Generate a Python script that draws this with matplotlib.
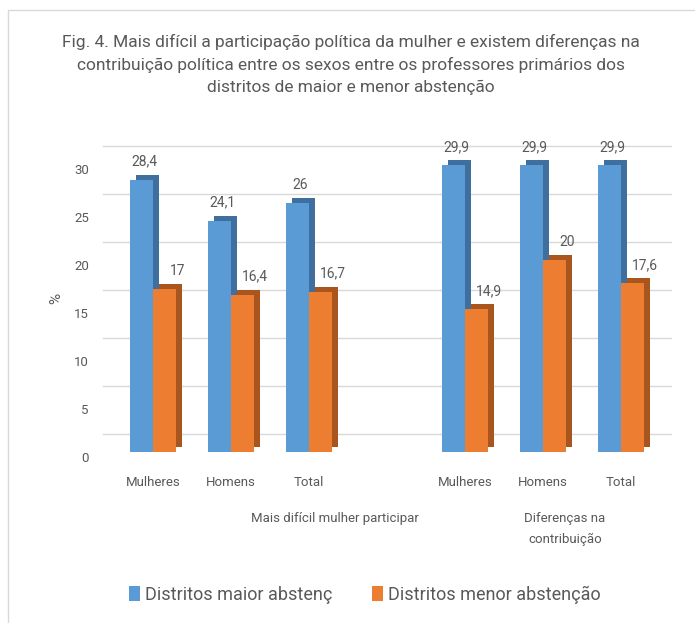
import numpy as np
import matplotlib.pyplot as plt
import matplotlib.transforms as mtransforms
from matplotlib.patches import Rectangle

plt.rcParams['font.family'] = ['Roboto', 'DejaVu Sans']

# data
categories = ['Mulheres', 'Homens', 'Total', 'Mulheres', 'Homens', 'Total']
groups = ['Mais difícil mulher participar', 'Diferenças na\ncontribuição']
maior = [28.4, 24.1, 26, 29.9, 29.9, 29.9]
menor = [17, 16.4, 16.7, 14.9, 20, 17.6]
value_labels_maior = ['28,4', '24,1', '26', '29,9', '29,9', '29,9']
value_labels_menor = ['17', '16,4', '16,7', '14,9', '20', '17,6']
series_names = ['Distritos maior abstenç', 'Distritos menor abstenção']
yticks = [0, 5, 10, 15, 20, 25, 30]

blue, blue_dark = '#5B9BD5', '#3F6F9E'
orange, orange_dark = '#ED7D31', '#A9561E'
txt = '#595959'

fig = plt.figure(figsize=(6.95, 6.23), dpi=100)
ax = fig.add_axes([0.136, 0.2745, 0.8305, 0.4925])

x = np.array([0, 1, 2, 4, 5, 6])
w = 0.3

# fake 3D depth: darker copy shifted up/right behind each bar
depth = mtransforms.ScaledTranslation(6 / 100, 5 / 100, fig.dpi_scale_trans)
ax.bar(x - w / 2, maior, w, color=blue_dark, transform=ax.transData + depth, zorder=2)
ax.bar(x + w / 2, menor, w, color=orange_dark, transform=ax.transData + depth, zorder=2)
b1 = ax.bar(x - w / 2, maior, w, color=blue, zorder=3, label=series_names[0])
b2 = ax.bar(x + w / 2, menor, w, color=orange, zorder=3, label=series_names[1])

for xi, v, s in zip(x, maior, value_labels_maior):
    ax.annotate(s, (xi - w / 2, v), xytext=(2, 8), textcoords='offset points',
                ha='center', va='bottom', fontsize=10, color=txt)
for xi, v, s in zip(x, menor, value_labels_menor):
    ax.annotate(s, (xi + w / 2, v), xytext=(9, 8), textcoords='offset points',
                ha='center', va='bottom', fontsize=10, color=txt)

# gridlines on the back wall (shifted up)
back = mtransforms.ScaledTranslation(0.08, 18 / 100, fig.dpi_scale_trans)
for t in yticks:
    ax.plot([0, 0.985], [t, t], color='#D9D9D9', lw=1, zorder=0,
            transform=ax.get_yaxis_transform() + back)

ax.set_xlim(-0.75, 6.65)
ax.set_ylim(0, 32)
ax.set_yticks(yticks)
ax.set_xticks(x)
ax.set_xticklabels(categories)
ax.tick_params(axis='both', length=0, labelsize=9.5, labelcolor=txt)
ax.tick_params(axis='x', pad=17)
ax.tick_params(axis='y', pad=4)
for lbl in ax.get_yticklabels():
    lbl.set_transform(lbl.get_transform() + mtransforms.ScaledTranslation(0, -0.05, fig.dpi_scale_trans))
for sp in ax.spines.values():
    sp.set_visible(False)
ax.set_ylabel('%', fontsize=11, color=txt, labelpad=8)

# group labels
ax.text(2.33, -6.3, groups[0], ha='center', va='top', fontsize=9.5, color=txt)
ax.text(5.28, -6.3, groups[1], ha='center', va='top', fontsize=9.5, color=txt,
        linespacing=1.7)

fig.text(0.505, 0.945,
         'Fig. 4. Mais difícil a participação política da mulher e existem diferenças na\n'
         'contribuição política entre os sexos entre os professores primários dos\n'
         'distritos de maior e menor abstenção',
         ha='center', va='top', fontsize=12.5, color=txt, linespacing=1.55)

fig.legend(handles=[b1, b2], loc='center', bbox_to_anchor=(0.525, 0.045), ncol=2,
           frameon=False, fontsize=13, handlelength=0.6, handleheight=0.9,
           handletextpad=0.3, columnspacing=2.2, labelcolor=txt)

# outer chart frame
fig.patches.append(Rectangle((8 / 695, -0.1), 1.2, 1.1 - 10 / 623, transform=fig.transFigure,
                             fill=False, edgecolor='#D9D9D9', lw=1))

fig.savefig('out.png', dpi=100)
